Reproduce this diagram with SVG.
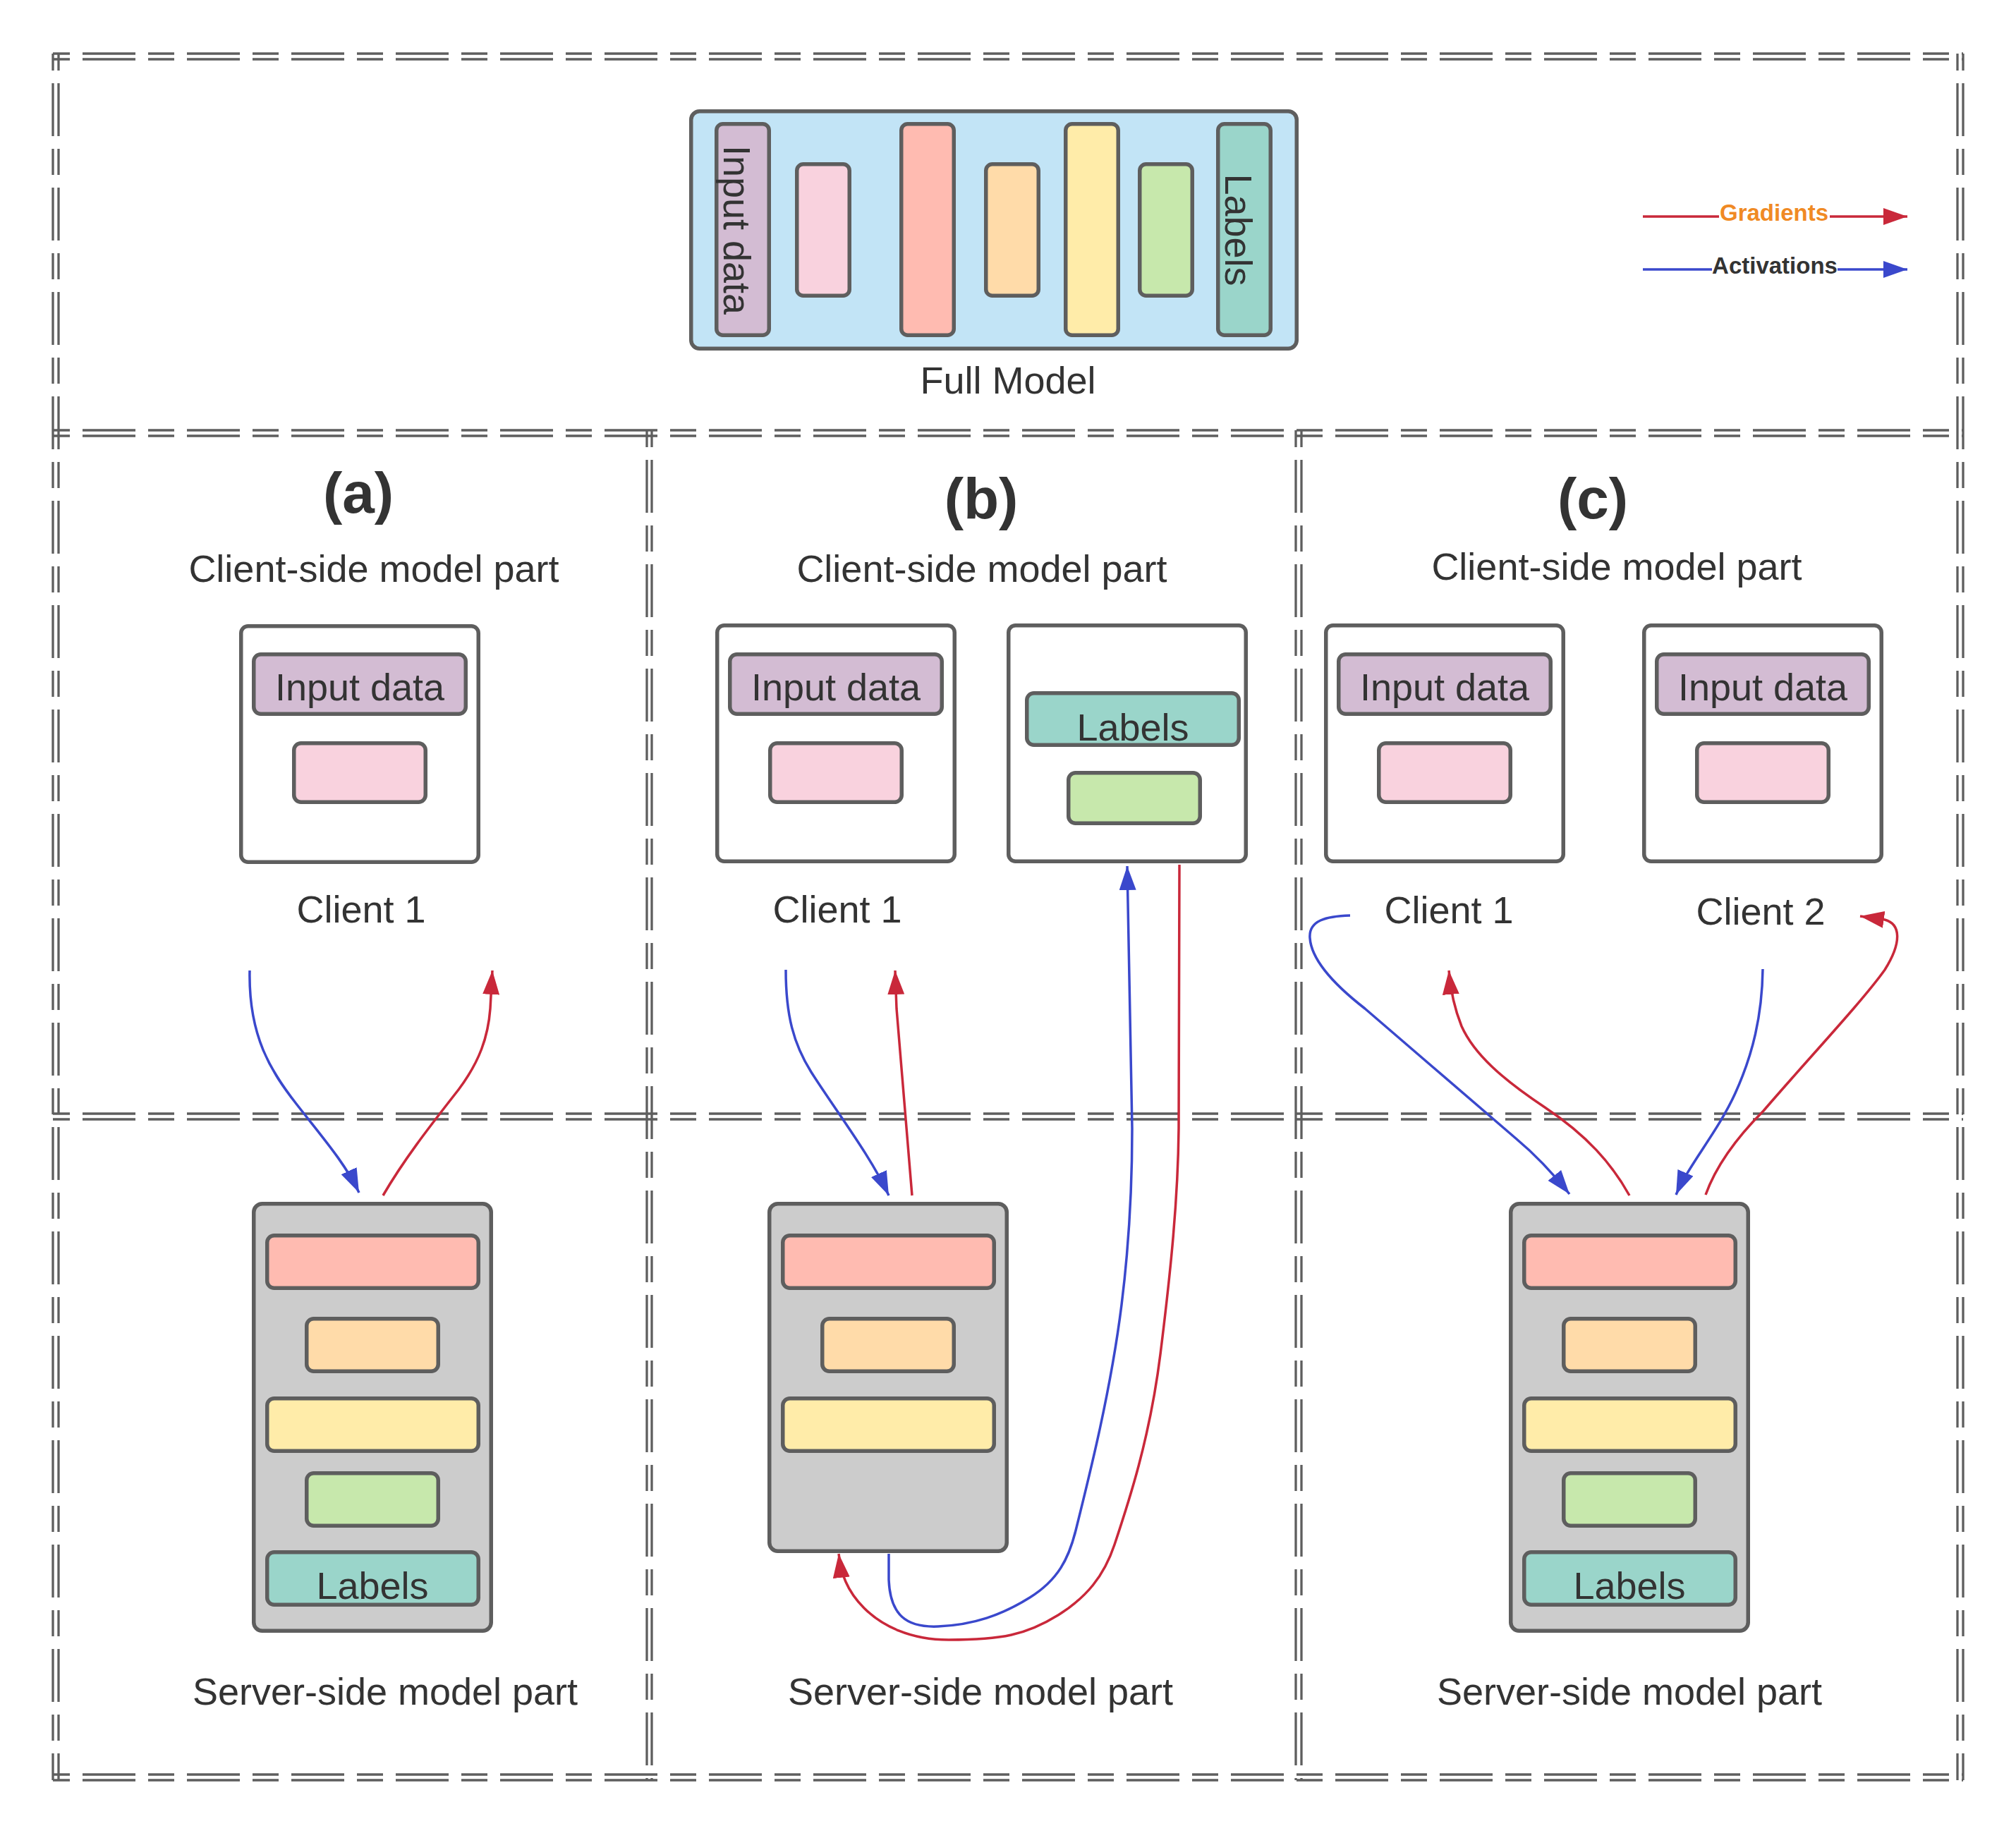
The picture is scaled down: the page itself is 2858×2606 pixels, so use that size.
<svg xmlns="http://www.w3.org/2000/svg" width="2858" height="2606" viewBox="0 0 2858 2606">
<defs>
<style>
.frame{fill:none;stroke:#5e5e5e;stroke-width:3.3;stroke-dasharray:75 18 37 18;stroke-dashoffset:106}
.bx{stroke:#5e5e5e;stroke-width:5.5}
.t{font-family:"Liberation Sans",Arial,sans-serif;fill:#333333;font-size:54px;text-anchor:middle}
.h{font-weight:bold;font-size:82px}
.lg{font-weight:bold;font-size:33px}
.act{fill:none;stroke:#3a48cc;stroke-width:3.5}
.grd{fill:none;stroke:#c9283a;stroke-width:3.5}
.blue{fill:#c2e4f6}.purple{fill:#d3bcd3}.pink{fill:#f9d2de}.salmon{fill:#ffbbb1}.orange{fill:#ffdba9}.yellow{fill:#ffeca9}.green{fill:#c7e8ac}.teal{fill:#9ad5ca}.white{fill:#ffffff}.gray{fill:#cccccc}
</style>
<marker id="ar" markerUnits="userSpaceOnUse" markerWidth="34" markerHeight="24" viewBox="0 0 34 24" refX="34" refY="12" orient="auto"><path d="M0,0 L34,12 L0,24 Z" fill="#c9283a"/></marker>
<marker id="ab" markerUnits="userSpaceOnUse" markerWidth="34" markerHeight="24" viewBox="0 0 34 24" refX="34" refY="12" orient="auto"><path d="M0,0 L34,12 L0,24 Z" fill="#3a48cc"/></marker>
</defs>
<rect width="2858" height="2606" fill="#ffffff"/>

<g id="frames">
<path class="frame" d="M75,76 H2783 M75,84 H2783"/>
<path class="frame" d="M75,610 H2783 M75,618 H2783"/>
<path class="frame" d="M75,1579 H2783 M75,1587 H2783"/>
<path class="frame" d="M75,2516 H2783 M75,2524 H2783"/>
<path class="frame" d="M75,76 V2524 M83,76 V2524"/>
<path class="frame" d="M2775,76 V2524 M2783,76 V2524"/>
<path class="frame" d="M917,610 V2524 M924,610 V2524"/>
<path class="frame" d="M1837,610 V2524 M1845,610 V2524"/>
</g>

<g id="full-model">
<rect class="bx blue" x="979.75" y="157.75" width="858.5" height="336.5" rx="12"/>
<rect class="bx purple" x="1015.75" y="175.75" width="74.5" height="299.5" rx="9"/>
<rect class="bx pink" x="1129.75" y="232.75" width="74.5" height="186.5" rx="9"/>
<rect class="bx salmon" x="1277.75" y="175.75" width="74.5" height="299.5" rx="9"/>
<rect class="bx orange" x="1397.75" y="232.75" width="74.5" height="186.5" rx="9"/>
<rect class="bx yellow" x="1510.75" y="175.75" width="74.5" height="299.5" rx="9"/>
<rect class="bx green" x="1615.75" y="232.75" width="74.5" height="186.5" rx="9"/>
<rect class="bx teal" x="1726.75" y="175.75" width="74.5" height="299.5" rx="9"/>
<text class="t" transform="translate(1026,326) rotate(90)">Input data</text>
<text class="t" transform="translate(1737,326) rotate(90)">Labels</text>
<text class="t" x="1429" y="558">Full Model</text>
</g>

<g id="legend">
<path class="grd" d="M2329,307 H2437"/>
<path class="grd" d="M2594,307 H2704" marker-end="url(#ar)"/>
<text class="t lg" x="2515" y="313" style="fill:#f08a24">Gradients</text>
<path class="act" d="M2329,382 H2427"/>
<path class="act" d="M2605,382 H2704" marker-end="url(#ab)"/>
<text class="t lg" x="2516" y="388">Activations</text>
</g>

<g id="titles">
<text class="t h" x="508" y="727">(a)</text>
<text class="t h" x="1391" y="735">(b)</text>
<text class="t h" x="2258" y="735">(c)</text>
<text class="t" x="530" y="825">Client-side model part</text>
<text class="t" x="1392" y="825">Client-side model part</text>
<text class="t" x="2292" y="822">Client-side model part</text>
<text class="t" x="546" y="2417">Server-side model part</text>
<text class="t" x="1390" y="2417">Server-side model part</text>
<text class="t" x="2310" y="2417">Server-side model part</text>
</g>

<g id="a-client1">
<rect class="bx white" x="341.75" y="887.75" width="336.5" height="334.5" rx="10"/>
<rect class="bx purple" x="359.75" y="927.75" width="300.5" height="84.5" rx="10"/>
<rect class="bx pink" x="416.75" y="1053.75" width="186.5" height="83.5" rx="10"/>
<text class="t" x="510" y="993">Input data</text>
<text class="t" x="512" y="1308">Client 1</text>
</g>

<g id="a-server">
<rect class="bx gray" x="359.75" y="1706.75" width="336.5" height="605.5" rx="12"/>
<rect class="bx salmon" x="378.75" y="1751.75" width="299.5" height="74.5" rx="10"/>
<rect class="bx orange" x="434.75" y="1869.75" width="186.5" height="74.5" rx="10"/>
<rect class="bx yellow" x="378.75" y="1982.75" width="299.5" height="74.5" rx="10"/>
<rect class="bx green" x="434.75" y="2088.75" width="186.5" height="74.5" rx="10"/>
<rect class="bx teal" x="378.75" y="2200.75" width="299.5" height="74.5" rx="10"/>
<text class="t" x="528" y="2267">Labels</text>
</g>

<g id="b-client1">
<rect class="bx white" x="1016.75" y="886.75" width="336.5" height="334.5" rx="10"/>
<rect class="bx purple" x="1034.75" y="927.75" width="300.5" height="84.5" rx="10"/>
<rect class="bx pink" x="1091.75" y="1053.75" width="186.5" height="83.5" rx="10"/>
<text class="t" x="1185" y="993">Input data</text>
<text class="t" x="1187" y="1308">Client 1</text>
</g>

<g id="b-labels-client">
<rect class="bx white" x="1429.75" y="886.75" width="336.5" height="334.5" rx="10"/>
<rect class="bx teal" x="1455.75" y="982.75" width="300.5" height="73.5" rx="10"/>
<rect class="bx green" x="1514.75" y="1095.75" width="186.5" height="71.5" rx="10"/>
<text class="t" x="1606" y="1050">Labels</text>
</g>

<g id="b-server">
<rect class="bx gray" x="1090.75" y="1706.75" width="336.5" height="492.5" rx="12"/>
<rect class="bx salmon" x="1109.75" y="1751.75" width="299.5" height="74.5" rx="10"/>
<rect class="bx orange" x="1165.75" y="1869.75" width="186.5" height="74.5" rx="10"/>
<rect class="bx yellow" x="1109.75" y="1982.75" width="299.5" height="74.5" rx="10"/>
</g>

<g id="c-client1">
<rect class="bx white" x="1879.75" y="886.75" width="336.5" height="334.5" rx="10"/>
<rect class="bx purple" x="1897.75" y="927.75" width="300.5" height="84.5" rx="10"/>
<rect class="bx pink" x="1954.75" y="1053.75" width="186.5" height="83.5" rx="10"/>
<text class="t" x="2048" y="993">Input data</text>
<text class="t" x="2054" y="1309">Client 1</text>
</g>

<g id="c-client2">
<rect class="bx white" x="2330.75" y="886.75" width="336.5" height="334.5" rx="10"/>
<rect class="bx purple" x="2348.75" y="927.75" width="300.5" height="84.5" rx="10"/>
<rect class="bx pink" x="2405.75" y="1053.75" width="186.5" height="83.5" rx="10"/>
<text class="t" x="2499" y="993">Input data</text>
<text class="t" x="2496" y="1311">Client 2</text>
</g>

<g id="c-server">
<rect class="bx gray" x="2141.75" y="1706.75" width="336.5" height="605.5" rx="12"/>
<rect class="bx salmon" x="2160.75" y="1751.75" width="299.5" height="74.5" rx="10"/>
<rect class="bx orange" x="2216.75" y="1869.75" width="186.5" height="74.5" rx="10"/>
<rect class="bx yellow" x="2160.75" y="1982.75" width="299.5" height="74.5" rx="10"/>
<rect class="bx green" x="2216.75" y="2088.75" width="186.5" height="74.5" rx="10"/>
<rect class="bx teal" x="2160.75" y="2200.75" width="299.5" height="74.5" rx="10"/>
<text class="t" x="2310" y="2267">Labels</text>
</g>

<g id="connectors">
<path class="act" d="M354,1376 C352,1470 385,1520 420,1565 C455,1610 490,1650 509,1691" marker-end="url(#ab)"/>
<path class="grd" d="M543,1695 C575,1640 615,1590 650,1545 C680,1505 692,1470 695,1430 L698,1376" marker-end="url(#ar)"/>
<path class="act" d="M1114,1375 C1114,1440 1125,1480 1150,1520 C1185,1575 1235,1640 1260,1695" marker-end="url(#ab)"/>
<path class="grd" d="M1293,1695 L1271,1430 L1269,1376" marker-end="url(#ar)"/>
<path class="act" d="M1260,2203 L1260,2240 C1262,2290 1285,2308 1330,2306 C1380,2304 1420,2290 1460,2265 C1500,2240 1515,2210 1525,2170 C1545,2090 1575,1970 1590,1850 C1600,1770 1605,1680 1605,1600 L1598,1228" marker-end="url(#ab)"/>
<path class="grd" d="M1672,1226 L1671,1600 C1670,1700 1660,1800 1645,1920 C1630,2040 1600,2130 1580,2190 C1565,2235 1540,2265 1500,2290 C1455,2318 1420,2325 1345,2325 C1290,2325 1250,2305 1225,2280 C1200,2255 1192,2230 1189,2203" marker-end="url(#ar)"/>
<path class="act" d="M1914,1298 C1880,1299 1855,1305 1857,1330 C1859,1360 1890,1395 1935,1430 L2150,1615 C2180,1640 2205,1668 2225,1693" marker-end="url(#ab)"/>
<path class="grd" d="M2310,1695 C2285,1650 2250,1610 2190,1570 C2130,1530 2090,1495 2072,1455 C2060,1425 2056,1400 2054,1376" marker-end="url(#ar)"/>
<path class="act" d="M2499,1374 C2498,1440 2485,1495 2460,1550 C2435,1605 2395,1650 2376,1694" marker-end="url(#ab)"/>
<path class="grd" d="M2418,1694 C2432,1655 2460,1615 2500,1575 C2560,1505 2640,1420 2672,1375 C2697,1335 2694,1310 2672,1304 L2637,1299" marker-end="url(#ar)"/>
</g>
</svg>
